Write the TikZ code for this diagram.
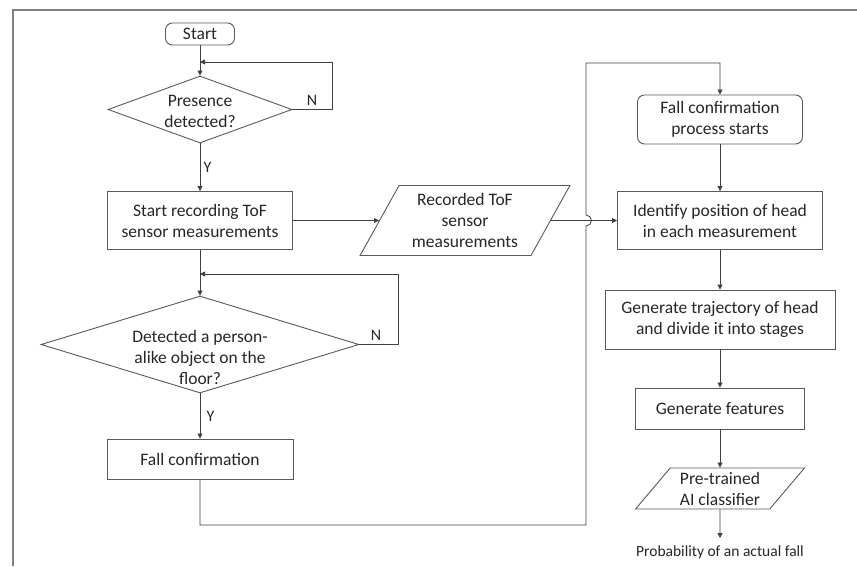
\documentclass[tikz,border=0pt]{standalone}
\usepackage{fontspec}
\setmainfont{Carlito}
\usepackage{xcolor}
\usepackage{tikz}
\usetikzlibrary{positioning,arrows.meta,shapes.geometric}

\begin{document}
\begin{tikzpicture}[
      x=10pt, y=-10pt,
      font=\fontsize{17.5pt}{21pt}\selectfont,
      proc/.style={rectangle, draw=boxclr, line width=0.9pt, align=center, inner sep=0pt},
      term/.style={proc, rounded corners=7pt},
      dec/.style={diamond, draw=boxclr, line width=0.9pt, inner sep=0pt},
      io/.style={trapezium, trapezium stretches=true, draw=boxclr, line width=0.9pt,
        align=center, inner sep=0pt},
      flow/.style={-{Triangle[length=5pt,width=5pt]}, line width=0.8pt, draw=lineclr},
      yn/.style={font=\fontsize{16pt}{18pt}\selectfont},
    ]
    \definecolor{lineclr}{RGB}{64,64,64}
    \definecolor{boxclr}{RGB}{89,89,89}
    \definecolor{txtclr}{RGB}{38,38,38}
    \tikzset{every node/.append style={text=txtclr}}

    \useasboundingbox (0,0) rectangle (85.7,56.6);
    \draw[gray, line width=1.3pt] (1.3,56.6) -- (1.3,1.0) -- (85.7,1.0);

    \node[term, minimum width=69pt, minimum height=22pt]  (start)  at (20,3.4)    {Start};
    \node[dec, minimum width=184pt, minimum height=67pt]  (pres)   at (20,10.95)  {};
    \node[align=center]                                   (pres-t) at (20,11.1)   {Presence\\detected?};
    \node[proc, minimum width=185pt, minimum height=58pt] (rec)    at (20,22.05)  {Start recording ToF\\sensor measurements};
    \node[dec, minimum width=318pt, minimum height=97pt]  (person) at (20,34.45)  {};
    \node[align=center]                                   (person-t) at (20,35.7) {Detected a person-\\alike object on the\\floor?};
    \node[proc, minimum width=186pt, minimum height=40pt] (fallc)  at (20,45.9)   {Fall confirmation};

    \node[io, trapezium left angle=60, trapezium right angle=120,
      minimum width=210pt, minimum height=70pt]           (recdata) at (46.5,22.05) {Recorded ToF\\sensor\\measurements};

    \node[term, minimum width=165pt, minimum height=49pt] (fcstart) at (72,11.95) {Fall confirmation\\process starts};
    \node[proc, minimum width=205pt, minimum height=58pt] (ident)   at (72,22.05) {Identify position of head\\in each measurement};
    \node[proc, minimum width=230pt, minimum height=59pt] (traj)    at (72,31.95) {Generate trajectory of head\\and divide it into stages};
    \node[proc, minimum width=169pt, minimum height=41pt] (feat)    at (72,40.85) {Generate features};
    \node[io, trapezium left angle=50, trapezium right angle=130,
      minimum width=169pt, minimum height=41pt]           (clf)     at (72,48.85) {Pre-trained\\AI classifier};
    \node[font=\fontsize{15.5pt}{18pt}\selectfont, anchor=north, inner xsep=0pt, inner ysep=8pt]
                                                          (prob)    at (72,53.8)  {Probability of an actual fall};

    \coordinate (j1) at (20,6.2);
    \coordinate (j2) at (20,27.4);

    \draw[flow] (start) -- (pres);
    \draw[flow] (pres.east) -- ++(4,0) |- (j1);
    \node[yn] (n1) at (31.2,10.0) {N};
    \draw[flow] (pres) -- node[yn, right] (y1) {Y} (rec);
    \draw[flow] (rec) -- (person);
    \draw[flow] (person.east) -- ++(3.9,0) |- (j2);
    \node[yn] (n2) at (37.6,33.5) {N};
    \draw[flow] (person) -- node[yn, right=3pt] (y2) {Y} (fallc);
    \draw[flow] (rec) -- (recdata);
    \draw[flow] (recdata) -- (ident);
    \draw[flow] (fallc.south) |- (58.6,52.5) -- (58.6,22.6)
      arc[start angle=90, end angle=-90, radius=0.55] -- (58.6,6.3) -| (fcstart.north);

    \draw[flow] (fcstart) -- (ident);
    \draw[flow] (ident) -- (traj);
    \draw[flow] (traj) -- (feat);
    \draw[flow] (feat) -- (clf);
    \draw[flow] (clf) -- (prob);
  \end{tikzpicture}
\end{document}
